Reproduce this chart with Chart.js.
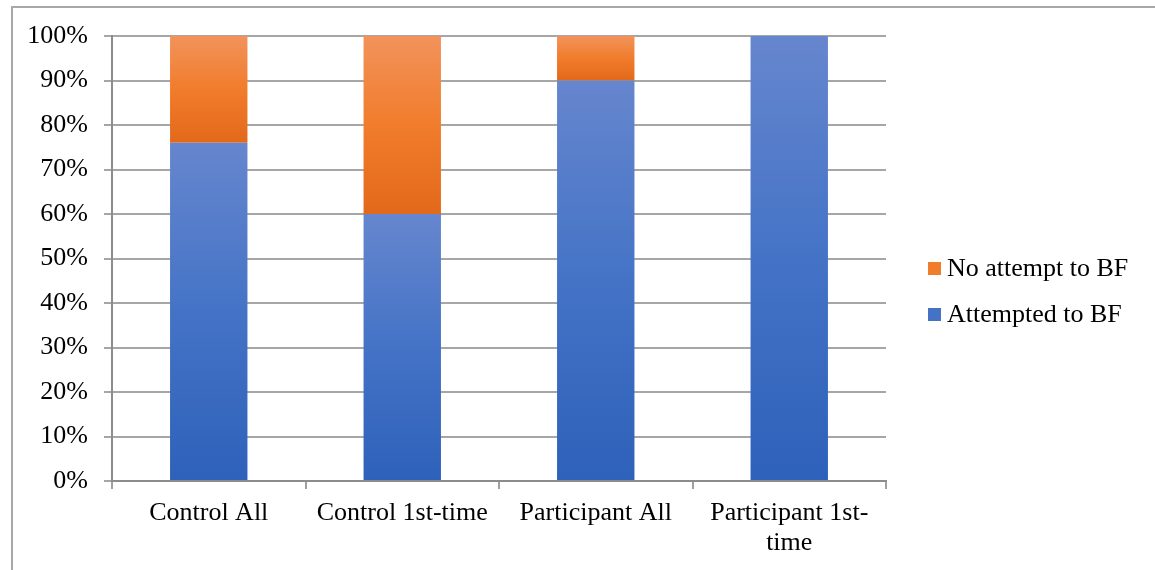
<!DOCTYPE html>
<html>
<head>
<meta charset="utf-8">
<title>Breastfeeding attempts</title>
<script src="https://cdn.jsdelivr.net/npm/chart.js@4/dist/chart.umd.min.js"></script>
<style>
  html, body { margin: 0; padding: 0; background: #ffffff; }
  #wrap { width: 1155px; height: 570px; position: relative; }
</style>
</head>
<body>
<div id="wrap"><canvas id="bf" width="1155" height="570"></canvas></div>
<script>
// Groups along the horizontal axis
const categories = ['Control All', 'Control 1st-time', 'Participant All', ['Participant 1st-', 'time']];
// Share of mothers (%) in each group
const attempted = [76, 60, 90, 100];
const noAttempt = [24, 40, 10, 0];
// Series names
const seriesNames = ['Attempted to BF', 'No attempt to BF'];
// Vertical axis
const yTicks = [0, 10, 20, 30, 40, 50, 60, 70, 80, 90, 100];

const FONT = '"Liberation Serif", "Times New Roman", serif';
const BLUE = ['#6686CE', '#4473C6', '#2E61BA'];
const ORANGE = ['#F2935B', '#F17C2C', '#E3691A'];

// Each stacked segment gets its own top-to-bottom gradient
function segmentFill(stops, lowerOf, upperOf) {
  return (c) => {
    const chart = c.chart;
    if (!chart.chartArea || c.type !== 'data') return stops[1];
    const ys = chart.scales.y;
    const i = c.dataIndex;
    const top = ys.getPixelForValue(upperOf(i));
    const bottom = ys.getPixelForValue(lowerOf(i));
    if (!(bottom > top)) return stops[1];
    const g = chart.ctx.createLinearGradient(0, top, 0, bottom);
    g.addColorStop(0, stops[0]);
    g.addColorStop(0.5, stops[1]);
    g.addColorStop(1, stops[2]);
    return g;
  };
}

// Thin outer frame along the top and left edges
const framePlugin = {
  id: 'frame',
  beforeDraw(chart) {
    const ctx = chart.ctx;
    ctx.save();
    ctx.strokeStyle = '#a8a8a8';
    ctx.lineWidth = 2;
    ctx.beginPath();
    ctx.moveTo(12, chart.height);
    ctx.lineTo(12, 7);
    ctx.lineTo(chart.width, 7);
    ctx.stroke();
    ctx.restore();
  }
};

// Legend on the right, last series listed first
const sideLegend = {
  id: 'sideLegend',
  afterDraw(chart) {
    const ctx = chart.ctx;
    const swatch = [ORANGE[1], BLUE[1]];
    const names = chart.data.datasets.map(d => d.label).reverse();
    ctx.save();
    ctx.font = '26px ' + FONT;
    ctx.textBaseline = 'middle';
    ctx.textAlign = 'left';
    names.forEach((name, k) => {
      const cy = 268 + k * 46;
      ctx.fillStyle = swatch[k];
      ctx.fillRect(928, cy - 6, 13, 13);
      ctx.fillStyle = '#000000';
      ctx.fillText(name, 947, cy + 1);
    });
    ctx.restore();
  }
};

function draw() {
  new Chart(document.getElementById('bf'), {
    type: 'bar',
    data: {
      labels: categories,
      datasets: [
        {
          label: seriesNames[0],
          data: attempted,
          backgroundColor: segmentFill(BLUE, () => 0, i => attempted[i]),
          borderWidth: 0,
          categoryPercentage: 0.4,
          barPercentage: 1
        },
        {
          label: seriesNames[1],
          data: noAttempt,
          backgroundColor: segmentFill(ORANGE, i => attempted[i], i => attempted[i] + noAttempt[i]),
          borderWidth: 0,
          categoryPercentage: 0.4,
          barPercentage: 1
        }
      ]
    },
    options: {
      responsive: false,
      animation: false,
      events: [],
      layout: { padding: { top: 36, left: 0, right: 269, bottom: 0 } },
      plugins: {
        legend: { display: false },
        tooltip: { enabled: false },
        title: { display: false }
      },
      scales: {
        x: {
          stacked: true,
          offset: true,
          grid: {
            display: true,
            offset: true,
            drawOnChartArea: false,
            drawTicks: true,
            tickLength: 8,
            color: '#a0a0a0',
            lineWidth: 2
          },
          border: { display: true, color: '#8c8c8c', width: 2 },
          ticks: {
            color: '#000000',
            padding: 9,
            maxRotation: 0,
            autoSkip: false,
            font: { family: FONT, size: 26, lineHeight: 1.15 }
          },
          afterFit(s) { s.height = 89; }
        },
        y: {
          stacked: true,
          min: 0,
          max: 100,
          afterBuildTicks(s) { s.ticks = yTicks.map(v => ({ value: v })); },
          grid: {
            color: '#a6a6a6',
            lineWidth: 2,
            drawTicks: true,
            tickLength: 8
          },
          border: { display: true, color: '#8c8c8c', width: 2 },
          ticks: {
            color: '#000000',
            padding: 16,
            font: { family: FONT, size: 26 },
            callback: v => v + '%'
          },
          afterFit(s) { s.width = 112; }
        }
      }
    },
    plugins: [framePlugin, sideLegend]
  });
}

if (document.fonts && document.fonts.load) {
  document.fonts.load('26px "Liberation Serif"').then(draw, draw);
} else {
  draw();
}
</script>
</body>
</html>
